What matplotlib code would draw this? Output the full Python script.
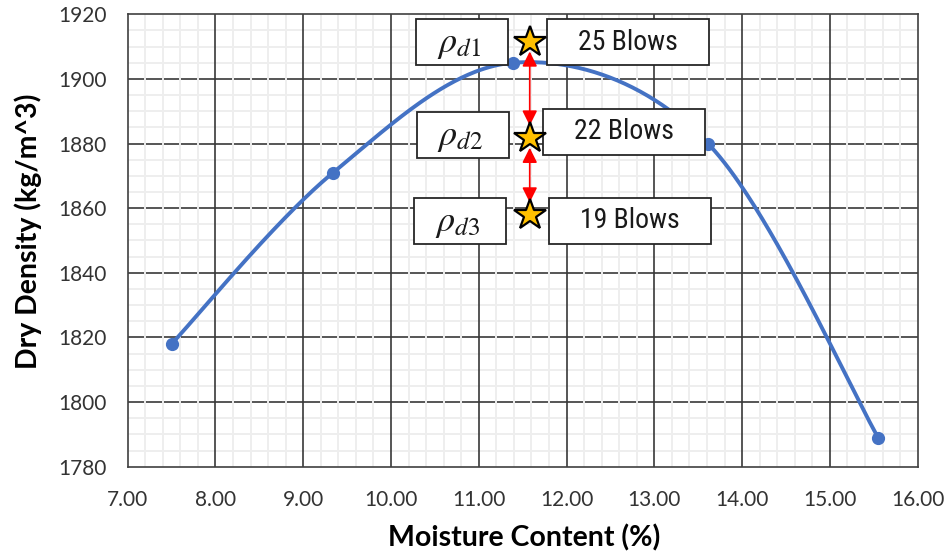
import numpy as np
import matplotlib
matplotlib.use("Agg")
import matplotlib.pyplot as plt
from matplotlib.patches import Rectangle, FancyArrowPatch
from matplotlib.ticker import MultipleLocator, FormatStrFormatter

# Compaction test results
moisture = [7.50, 9.34, 11.39, 13.61, 15.55]          # %
dry_density = [1818, 1871, 1905, 1880, 1789]          # kg/m^3

# Densities reached with different blow counts at the same moisture content
star_moisture = 11.58
star_density = [1911.5, 1881.7, 1857.9]
density_labels = [r"$\rho_{d1}$", r"$\rho_{d2}$", r"$\rho_{d3}$"]
blow_labels = ["25 Blows", "22 Blows", "19 Blows"]

x_range = (7.0, 16.0)
y_range = (1780, 1920)
x_major, x_minor = 1.0, 0.2
y_major, y_minor = 20, 5

plt.rcParams["mathtext.fontset"] = "stix"

BLUE = "#4472C4"
TEXT = "#333333"
GRID = "#383838"
MINOR = "#eeeeee"

fig = plt.figure(figsize=(9.5, 5.56), dpi=100)
ax = fig.add_axes([127.7 / 950, 1 - 466.7 / 556, 790 / 950, 452.4 / 556])
ax.set_xlim(*x_range)
ax.set_ylim(*y_range)

ax.xaxis.set_major_locator(MultipleLocator(x_major))
ax.yaxis.set_major_locator(MultipleLocator(y_major))
ax.xaxis.set_major_formatter(FormatStrFormatter("%.2f"))
ax.yaxis.set_major_formatter(FormatStrFormatter("%d"))

# Grid: horizontal majors at the bottom, light minors over them,
# vertical majors on top
xs_major = np.arange(x_range[0], x_range[1] + 1e-9, x_major)
ys_major = np.arange(y_range[0], y_range[1] + 1e-9, y_major)
xs_minor = [v for v in np.arange(x_range[0], x_range[1] + 1e-9, x_minor)
            if np.min(np.abs(xs_major - v)) > 1e-6]
ys_minor = [v for v in np.arange(y_range[0], y_range[1] + 1e-9, y_minor)
            if np.min(np.abs(ys_major - v)) > 1e-6]

for y in ys_major[1:-1]:
    ax.axhline(y, color=GRID, lw=1.2, zorder=0.6)
for x in xs_minor:
    ax.axvline(x, color=MINOR, lw=1.4, zorder=0.7)
for y in ys_minor:
    ax.axhline(y, color=MINOR, lw=1.4, zorder=0.7)
for x in xs_major[1:-1]:
    ax.axvline(x, color=GRID, lw=1.2, zorder=0.8)

for sp in ax.spines.values():
    sp.set_color("#404040")
    sp.set_linewidth(1.2)

ax.tick_params(which="both", length=0)
ax.tick_params(axis="x", pad=17, labelsize=15, labelcolor=TEXT)
ax.tick_params(axis="y", pad=15, labelsize=15, labelcolor=TEXT)
for lab in ax.get_xticklabels() + ax.get_yticklabels():
    lab.set_family("Lato")

ax.set_xlabel("Moisture Content (%)", family="Lato", fontweight="bold",
              fontsize=20.5, color="black")
ax.set_ylabel("Dry Density (kg/m^3)", family="Lato", fontweight="bold",
              fontsize=20.5, color="black")
ax.xaxis.set_label_coords(0.502, -0.158)
ax.xaxis.label.set_va("center")
ax.yaxis.set_label_coords(-0.126, 0.52)
ax.yaxis.label.set_va("center")


def smoothed(ax, xs, ys, n=80):
    """Bezier smoothing through the points, built in screen space."""
    pts = ax.transData.transform(np.column_stack([xs, ys]))
    ext = np.vstack([pts[0], pts, pts[-1]])
    t = np.linspace(0, 1, n)[:, None]
    out = []
    for i in range(len(pts) - 1):
        p0, p3 = pts[i], pts[i + 1]
        p1 = p0 + (ext[i + 2] - ext[i]) / 6
        p2 = p3 - (ext[i + 3] - ext[i + 1]) / 6
        seg = ((1 - t) ** 3 * p0 + 3 * (1 - t) ** 2 * t * p1
               + 3 * (1 - t) * t ** 2 * p2 + t ** 3 * p3)
        out.append(seg if i == 0 else seg[1:])
    return ax.transData.inverted().transform(np.vstack(out))


curve = smoothed(ax, moisture, dry_density)
ax.plot(curve[:, 0], curve[:, 1], color=BLUE, lw=2.8, zorder=3,
        solid_capstyle="round")
ax.plot(moisture, dry_density, "o", color=BLUE, ms=8.5, zorder=3)

# Label boxes: centres in data units
box_h = 14.2
left_boxes = [(10.808, 1911.4), (10.82, 1882.7), (10.785, 1856.1)]
right_boxes = [(12.699, 1911.4), (12.653, 1883.6), (12.722, 1856.1)]
left_w, right_w = 1.048, 1.846

for (cx, cy), txt in zip(left_boxes, density_labels):
    ax.add_patch(Rectangle((cx - left_w / 2, cy - box_h / 2), left_w, box_h,
                           facecolor="white", edgecolor="#262626", lw=1.3,
                           zorder=5))
    ax.text(cx - 0.03, cy - 0.6, txt, ha="center", va="center", fontsize=26,
            color="#1a1a1a", zorder=6)

for (cx, cy), txt in zip(right_boxes, blow_labels):
    ax.add_patch(Rectangle((cx - right_w / 2, cy - box_h / 2), right_w, box_h,
                           facecolor="white", edgecolor="#262626", lw=1.3,
                           zorder=5))
    ax.text(cx, cy, txt, ha="center", va="center", fontsize=20,
            family=["Roboto Condensed", "DejaVu Sans"], fontstretch="condensed",
            color="#1a1a1a", zorder=6)

# Arrows between successive densities
for y_top, y_bot in zip(star_density[:-1], star_density[1:]):
    arr = FancyArrowPatch((star_moisture, y_top), (star_moisture, y_bot),
                          arrowstyle="<|-|>,head_length=0.9,head_width=0.45",
                          mutation_scale=10, color="red", lw=1.2,
                          shrinkA=7, shrinkB=9, zorder=7)
    ax.add_patch(arr)

ax.plot([star_moisture] * len(star_density), star_density, "*", ms=23.5,
        mfc="#FFC000", mec="black", mew=1.6, zorder=8, linestyle="none")

fig.savefig("out.png", dpi=100)
